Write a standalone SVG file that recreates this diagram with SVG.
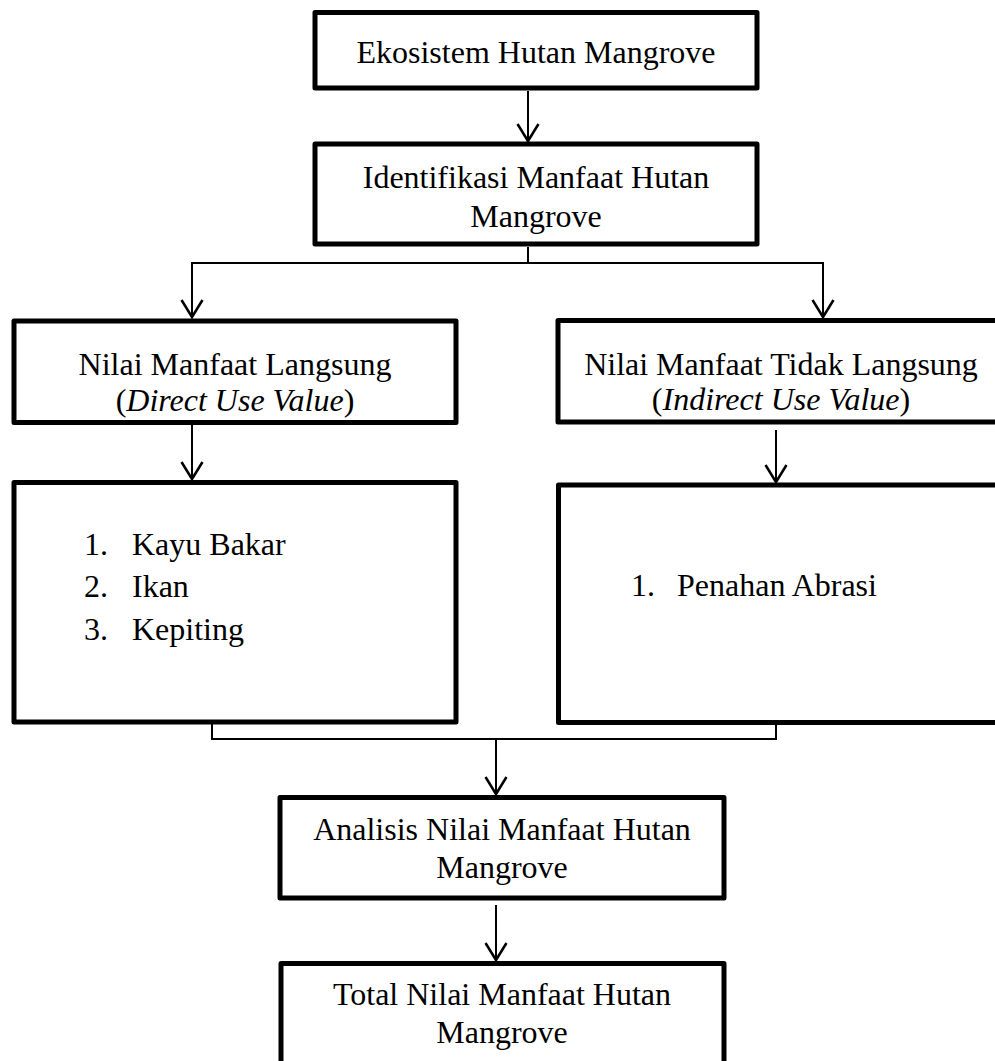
<svg xmlns="http://www.w3.org/2000/svg" width="995" height="1061" viewBox="0 0 995 1061">
<style>
.box{fill:#fff;stroke:#000;stroke-width:5;stroke-linejoin:round}
.t{font-family:"Liberation Serif","Times New Roman",serif;font-size:32px;fill:#000}
.c{text-anchor:middle}
.con{fill:none;stroke:#000;stroke-width:2}
</style>
<defs>
<marker id="arr" markerUnits="userSpaceOnUse" viewBox="-20 -13 23 26" markerWidth="23" markerHeight="26" refX="0" refY="0" orient="auto">
<path d="M-17,-10.5 L0,0 L-17,10.5" fill="none" stroke="#000" stroke-width="2.5"/>
</marker>
</defs>
<rect width="995" height="1061" fill="#fff"/>
<g id="connectors">
<line class="con" x1="528" y1="91" x2="528" y2="141" marker-end="url(#arr)"/>
<polyline class="con" points="528,247 528,263"/>
<polyline class="con" points="192,316 192,263 823,263 823,316" marker-start="none"/>
<line class="con" x1="192" y1="300" x2="192" y2="317" marker-end="url(#arr)"/>
<line class="con" x1="823" y1="300" x2="823" y2="317" marker-end="url(#arr)"/>
<line class="con" x1="192" y1="425" x2="192" y2="479" marker-end="url(#arr)"/>
<line class="con" x1="776" y1="430" x2="776" y2="482" marker-end="url(#arr)"/>
<polyline class="con" points="212,724 212,739 776,739 776,724"/>
<line class="con" x1="496" y1="739" x2="496" y2="794" marker-end="url(#arr)"/>
<line class="con" x1="496" y1="905" x2="496" y2="960" marker-end="url(#arr)"/>
</g>
<g id="n-ekosistem">
<rect class="box" x="315" y="12.5" width="442" height="75.5"/>
<text class="t c" x="536" y="63">Ekosistem Hutan Mangrove</text>
</g>
<g id="n-identifikasi">
<rect class="box" x="315" y="144" width="442" height="100"/>
<text class="t c" x="536" y="188">Identifikasi Manfaat Hutan</text>
<text class="t c" x="536" y="227">Mangrove</text>
</g>
<g id="n-langsung">
<rect class="box" x="14" y="321" width="442" height="101.5"/>
<text class="t c" x="235" y="375">Nilai Manfaat Langsung</text>
<text class="t c" x="235" y="411">(<tspan font-style="italic">Direct Use Value</tspan>)</text>
</g>
<g id="n-tidak-langsung">
<rect class="box" x="558" y="320.5" width="460" height="101.5"/>
<text class="t c" x="781" y="375">Nilai Manfaat Tidak Langsung</text>
<text class="t c" x="781" y="410">(<tspan font-style="italic">Indirect Use Value</tspan>)</text>
</g>
<g id="n-list-langsung">
<rect class="box" x="14" y="482.5" width="442" height="239.5"/>
<text class="t" x="84" y="555">1.</text><text class="t" x="132" y="555">Kayu Bakar</text>
<text class="t" x="84" y="597">2.</text><text class="t" x="132" y="597">Ikan</text>
<text class="t" x="84" y="640">3.</text><text class="t" x="132" y="640">Kepiting</text>
</g>
<g id="n-list-tidak-langsung">
<rect class="box" x="558.5" y="485" width="460" height="237.5"/>
<text class="t" x="631" y="596">1.</text><text class="t" x="677" y="596">Penahan Abrasi</text>
</g>
<g id="n-analisis">
<rect class="box" x="280" y="797.5" width="444" height="100.5"/>
<text class="t c" x="502" y="840">Analisis Nilai Manfaat Hutan</text>
<text class="t c" x="502" y="878">Mangrove</text>
</g>
<g id="n-total">
<rect class="box" x="281" y="963.5" width="443" height="110"/>
<text class="t c" x="502" y="1005">Total Nilai Manfaat Hutan</text>
<text class="t c" x="502" y="1043">Mangrove</text>
</g>
</svg>
